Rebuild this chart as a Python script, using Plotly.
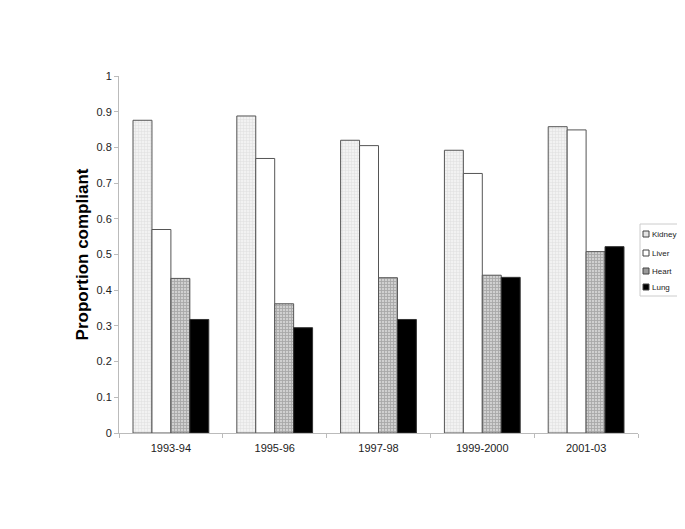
import plotly.graph_objects as go

periods = ["1993-94", "1995-96", "1997-98", "1999-2000", "2001-03"]
kidney = [0.876, 0.888, 0.820, 0.792, 0.858]
liver = [0.570, 0.769, 0.805, 0.727, 0.849]
heart = [0.433, 0.362, 0.435, 0.442, 0.508]
lung = [0.318, 0.295, 0.318, 0.436, 0.522]
series_names = ["Kidney", "Liver", "Heart", "Lung"]

# the page body adds an 8px offset; size the figure so it fits the window
OFF = 8
W, H = 677, 521
ML, MT = 111, 68
MR = W + OFF - 638
MB = H + OFF - 433
PW, PH = W - ML - MR, H - MT - MB


def px(x):
    return (x - OFF - ML) / PW


def py(y):
    return (433 - y) / PH


fig = go.Figure()
fig.add_trace(go.Bar(name="Kidney", x=periods, y=kidney,
                     marker=dict(color="#ececec", line=dict(color="#555555", width=1),
                                 pattern=dict(shape="+", size=3, fgcolor="#c8c8c8", bgcolor="#f2f2f2", solidity=0.3))))
fig.add_trace(go.Bar(name="Liver", x=periods, y=liver,
                     marker=dict(color="white", line=dict(color="#555555", width=1))))
fig.add_trace(go.Bar(name="Heart", x=periods, y=heart,
                     marker=dict(color="#a8a8a8", line=dict(color="#555555", width=1),
                                 pattern=dict(shape="+", size=3, fgcolor="#808080", bgcolor="#d0d0d0", solidity=0.5))))
fig.add_trace(go.Bar(name="Lung", x=periods, y=lung,
                     marker=dict(color="black", line=dict(color="#333333", width=1))))

# manual compact legend (Excel style)
shapes = [dict(type="rect", xref="paper", yref="paper",
               x0=px(640), x1=px(681), y0=py(224), y1=py(296),
               line=dict(color="#cccccc", width=1), fillcolor="white", layer="above")]
swatch_fill = ["#e4e4e4", "white", "#9a9a9a", "black"]
item_y = [234, 253, 271, 287]
annotations = []
for name, fillc, yy in zip(series_names, swatch_fill, item_y):
    shapes.append(dict(type="rect", xref="paper", yref="paper",
                       x0=px(643), x1=px(649), y0=py(yy - 3), y1=py(yy + 3),
                       line=dict(color="#444444", width=1), fillcolor=fillc, layer="above"))
    annotations.append(dict(text=name, xref="paper", yref="paper", x=px(650), y=py(yy),
                            xanchor="left", yanchor="middle", showarrow=False,
                            font=dict(size=8, color="#222222")))

fig.update_layout(
    width=W, height=H,
    margin=dict(l=ML, r=MR, t=MT, b=MB, autoexpand=False),
    paper_bgcolor="white", plot_bgcolor="white",
    barmode="group", bargap=0.27, bargroupgap=0,
    font=dict(family="Liberation Sans, Arial, sans-serif", color="#222222", size=11),
    showlegend=False,
    shapes=shapes, annotations=annotations,
    xaxis=dict(type="category", showline=True, linecolor="#bbbbbb", ticks="outside", tickson="boundaries",
               tickcolor="#bbbbbb", ticklen=4, showgrid=False, tickfont=dict(size=11),
               ticklabelstandoff=5),
    yaxis=dict(range=[0, 1], dtick=0.1, showline=True, linecolor="#bbbbbb", ticks="outside",
               tickcolor="#bbbbbb", ticklen=4, showgrid=False, zeroline=False,
               tickfont=dict(size=11),
               title=dict(text="<b>Proportion compliant</b>", font=dict(size=17, color="black"), standoff=3)),
)

fig.write_html("out.html")
